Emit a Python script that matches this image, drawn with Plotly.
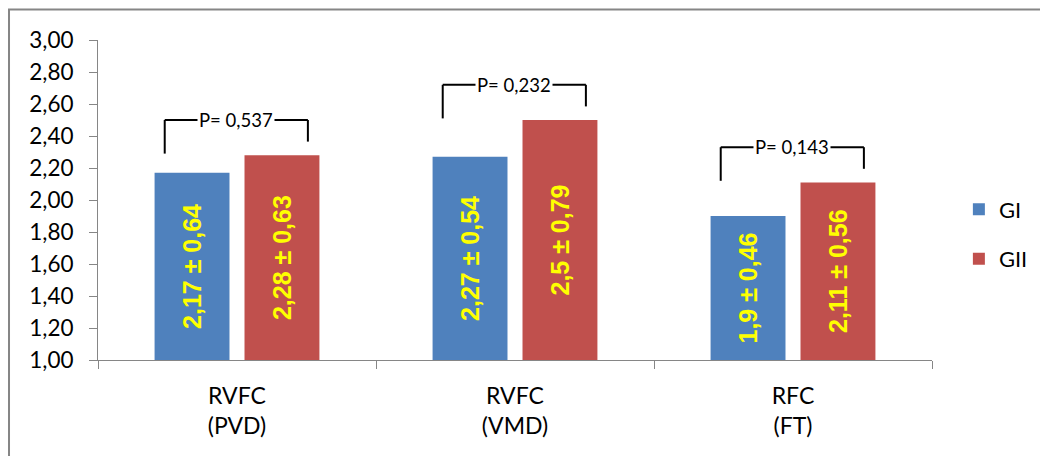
import plotly.graph_objects as go

# Group means and standard deviations per measurement
categories = ["RVFC<br>(PVD)", "RVFC<br>(VMD)", "RFC<br>(FT)"]
gi_mean = [2.17, 2.27, 1.90]
gi_sd = [0.64, 0.54, 0.46]
gii_mean = [2.28, 2.50, 2.11]
gii_sd = [0.63, 0.79, 0.56]
p_values = ["0,537", "0,232", "0,143"]

BLUE = "#4F81BD"
RED = "#C0504D"
AXIS_GRAY = "#868686"
FONT = "Lato"


def fmt(v):
    s = ("%.2f" % v).rstrip("0").rstrip(".")
    return s.replace(".", ",")


gi_text = [f"{fmt(m)} ± {fmt(s)}" for m, s in zip(gi_mean, gi_sd)]
gii_text = [f"{fmt(m)} ± {fmt(s)}" for m, s in zip(gii_mean, gii_sd)]

BASE = 1.0

fig = go.Figure()
for name, means, texts, color, grp in [
    ("GI", gi_mean, gi_text, BLUE, "g1"),
    ("GII", gii_mean, gii_text, RED, "g2"),
]:
    fig.add_trace(go.Bar(
        name=name,
        x=categories,
        y=[m - BASE for m in means],
        base=BASE,
        marker=dict(color=color, line=dict(width=0)),
        text=texts,
        textposition="inside",
        insidetextanchor="middle",
        textangle=-90,
        constraintext="none",
        insidetextfont=dict(family="Liberation Sans", size=25, color="#FFFF00", weight="bold"),
        legendgroup=grp,
        hoverinfo="skip",
    ))

# Significance brackets above each pair of bars
shapes = []
annotations = []
for i, (a, b, p) in enumerate(zip(gi_mean, gii_mean, p_values)):
    top = max(a, b) + 0.22
    xl, xr = i - 0.26, i + 0.255
    line = dict(color="black", width=2)
    shapes.append(dict(type="line", xref="x", yref="y", x0=xl, x1=xl, y0=top - 0.21, y1=top, line=line))
    shapes.append(dict(type="line", xref="x", yref="y", x0=xl, x1=xr, y0=top, y1=top, line=line))
    shapes.append(dict(type="line", xref="x", yref="y", x0=xr, x1=xr, y0=top - 0.135, y1=top, line=line))
    annotations.append(dict(
        x=i - 0.005, y=top, xref="x", yref="y", text=f"P= {p}", showarrow=False,
        font=dict(family=FONT, size=18.5, color="black"), bgcolor="white", borderpad=1,
    ))

# Outer chart frame
shapes.append(dict(type="rect", xref="paper", yref="paper", x0=-0.1067, x1=1.3, y0=-0.5, y1=1.0953,
                   line=dict(color=AXIS_GRAY, width=2), fillcolor="rgba(0,0,0,0)", layer="below"))

fig.update_layout(
    width=1040, height=456,
    margin=dict(l=98, r=108, t=40, b=96),
    paper_bgcolor="white", plot_bgcolor="white",
    separators=", ",
    barmode="group", bargap=0.353, bargroupgap=0.167,
    font=dict(family=FONT, size=22, color="black"),
    showlegend=True,
    legend=dict(xref="container", yref="container", x=0.922, xanchor="left", y=0.486, yanchor="middle",
                tracegroupgap=18, font=dict(family=FONT, size=22), itemwidth=30,
                bgcolor="rgba(0,0,0,0)"),
    shapes=shapes, annotations=annotations,
)
fig.update_yaxes(range=[1, 3], dtick=0.2, tickformat=".2f", showgrid=False, zeroline=False,
                 showline=True, linecolor=AXIS_GRAY, linewidth=1,
                 ticks="outside", ticklen=8, tickcolor=AXIS_GRAY, tickfont=dict(size=22.5),
                 ticklabelstandoff=11, automargin=False)
fig.update_xaxes(showgrid=False, showline=True, linecolor=AXIS_GRAY, linewidth=1,
                 ticks="outside", ticklen=8, tickcolor=AXIS_GRAY, tickson="boundaries",
                 tickfont=dict(size=23), ticklabelstandoff=15, automargin=False)

fig.write_html("out.html")
